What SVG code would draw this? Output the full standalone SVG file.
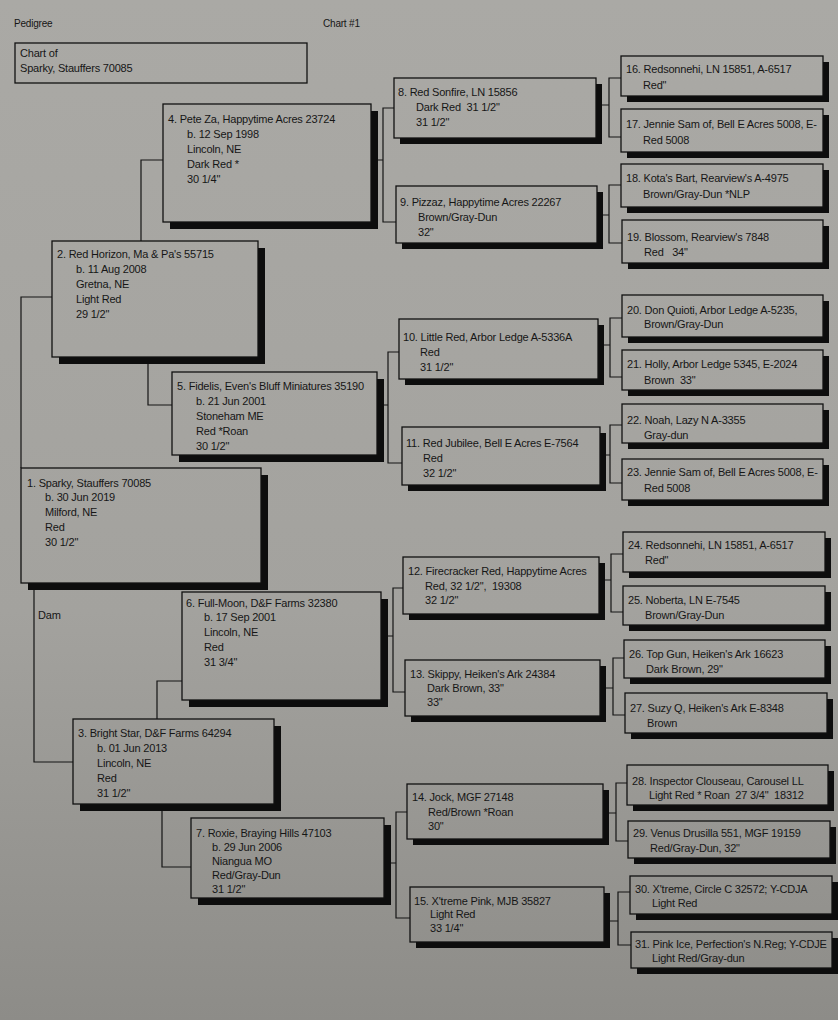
<svg xmlns="http://www.w3.org/2000/svg" width="838" height="1020" viewBox="0 0 838 1020">
<defs>
<linearGradient id="paper" gradientUnits="userSpaceOnUse" x1="0" y1="0" x2="0" y2="1020">
<stop offset="0" stop-color="#aaa9a5"/>
<stop offset="0.6" stop-color="#a3a29e"/>
<stop offset="1" stop-color="#8d8c88"/>
</linearGradient>
<style>
text{font-family:"Liberation Sans",Arial,sans-serif;font-size:11px;fill:#161616;letter-spacing:-0.2px;white-space:pre}
.hd{font-size:10px}
.bx{fill:url(#paper);stroke:#111;stroke-width:1.3}
.sh{fill:#0d0d0d}
.cn path{fill:none;stroke:#141414;stroke-width:1.2}
</style>
</defs>
<rect x="0" y="0" width="838" height="1020" fill="url(#paper)"/>
<text class="hd" x="14" y="27">Pedigree</text>
<text class="hd" x="323" y="27">Chart #1</text>
<g id="title">
<rect class="bx" x="15" y="43" width="292" height="40"/>
<text x="20" y="57">Chart of</text>
<text x="20" y="72">Sparky, Stauffers 70085</text>
</g>
<text x="38" y="619">Dam</text>
<g class="cn" id="connectors">
<path d="M163,160 H141 V241"/>
<path d="M52,297 H21 V468"/>
<path d="M148,357 V405 H172"/>
<path d="M377,405 H388 M399,352 H388 V463 H402"/>
<path d="M371,160 H383 M394,108 H383 V222 H396"/>
<path d="M596,105 H609 M621,78 H609 V137 H621"/>
<path d="M597,215 H609 M621,185 H609 V243 H622"/>
<path d="M598,345 H610 M622,318 H610 V377 H622"/>
<path d="M600,455 H610 M622,425 H610 V483 H622"/>
<path d="M34,583 V762 H73"/>
<path d="M157,719 V681 H182"/>
<path d="M162,804 V867 H191"/>
<path d="M381,636 H393 M403,588 H393 V692 H405"/>
<path d="M384,863 H396 M407,812 H396 V918 H410"/>
<path d="M599,580 H611 M623,554 H611 V612 H623"/>
<path d="M600,688 H613 M624,658 H613 V715 H625"/>
<path d="M603,813 H616 M627,783 H616 V841 H628"/>
<path d="M604,921 H618 M630,892 H618 V945 H631"/>
</g>
<g id="n1">
<rect class="sh" x="28" y="475" width="240" height="115"/>
<rect class="bx" x="21" y="468" width="240" height="115"/>
<text x="27" y="487">1. Sparky, Stauffers 70085</text>
<text x="45" y="501">b. 30 Jun 2019</text>
<text x="45" y="516">Milford, NE</text>
<text x="45" y="531">Red</text>
<text x="45" y="546">30 1/2"</text>
</g>
<g id="n2">
<rect class="sh" x="59" y="248" width="206" height="116"/>
<rect class="bx" x="52" y="241" width="206" height="116"/>
<text x="57" y="258">2. Red Horizon, Ma &amp; Pa's 55715</text>
<text x="76" y="273">b. 11 Aug 2008</text>
<text x="76" y="288">Gretna, NE</text>
<text x="76" y="303">Light Red</text>
<text x="76" y="318">29 1/2"</text>
</g>
<g id="n3">
<rect class="sh" x="80" y="726" width="201" height="85"/>
<rect class="bx" x="73" y="719" width="201" height="85"/>
<text x="78" y="737">3. Bright Star, D&amp;F Farms 64294</text>
<text x="97" y="752">b. 01 Jun 2013</text>
<text x="97" y="767">Lincoln, NE</text>
<text x="97" y="782">Red</text>
<text x="97" y="797">31 1/2"</text>
</g>
<g id="n4">
<rect class="sh" x="170" y="111" width="208" height="118"/>
<rect class="bx" x="163" y="104" width="208" height="118"/>
<text x="168" y="123">4. Pete Za, Happytime Acres 23724</text>
<text x="187" y="138">b. 12 Sep 1998</text>
<text x="187" y="153">Lincoln, NE</text>
<text x="187" y="168">Dark Red *</text>
<text x="187" y="183">30 1/4"</text>
</g>
<g id="n5">
<rect class="sh" x="179" y="379" width="205" height="83"/>
<rect class="bx" x="172" y="372" width="205" height="83"/>
<text x="177" y="390">5. Fidelis, Even's Bluff Miniatures 35190</text>
<text x="196" y="405">b. 21 Jun 2001</text>
<text x="196" y="420">Stoneham ME</text>
<text x="196" y="435">Red *Roan</text>
<text x="196" y="450">30 1/2"</text>
</g>
<g id="n6">
<rect class="sh" x="189" y="599" width="199" height="108"/>
<rect class="bx" x="182" y="592" width="199" height="108"/>
<text x="186" y="607">6. Full-Moon, D&amp;F Farms 32380</text>
<text x="204" y="621">b. 17 Sep 2001</text>
<text x="204" y="636">Lincoln, NE</text>
<text x="204" y="651">Red</text>
<text x="204" y="666">31 3/4"</text>
</g>
<g id="n7">
<rect class="sh" x="198" y="825" width="193" height="80"/>
<rect class="bx" x="191" y="818" width="193" height="80"/>
<text x="196" y="837">7. Roxie, Braying Hills 47103</text>
<text x="212" y="851">b. 29 Jun 2006</text>
<text x="212" y="865">Niangua MO</text>
<text x="212" y="879">Red/Gray-Dun</text>
<text x="212" y="893">31 1/2"</text>
</g>
<g id="n8">
<rect class="sh" x="400" y="84" width="202" height="60"/>
<rect class="bx" x="394" y="78" width="202" height="60"/>
<text x="398" y="96">8. Red Sonfire, LN 15856</text>
<text x="416" y="111">Dark Red  31 1/2"</text>
<text x="416" y="126">31 1/2"</text>
</g>
<g id="n9">
<rect class="sh" x="402" y="192" width="201" height="57"/>
<rect class="bx" x="396" y="186" width="201" height="57"/>
<text x="400" y="206">9. Pizzaz, Happytime Acres 22267</text>
<text x="418" y="221">Brown/Gray-Dun</text>
<text x="418" y="236">32"</text>
</g>
<g id="n10">
<rect class="sh" x="405" y="325" width="199" height="60"/>
<rect class="bx" x="399" y="319" width="199" height="60"/>
<text x="403" y="341">10. Little Red, Arbor Ledge A-5336A</text>
<text x="420" y="356">Red</text>
<text x="420" y="371">31 1/2"</text>
</g>
<g id="n11">
<rect class="sh" x="408" y="433" width="198" height="58"/>
<rect class="bx" x="402" y="427" width="198" height="58"/>
<text x="406" y="447">11. Red Jubilee, Bell E Acres E-7564</text>
<text x="423" y="462">Red</text>
<text x="423" y="477">32 1/2"</text>
</g>
<g id="n12">
<rect class="sh" x="409" y="563" width="196" height="57"/>
<rect class="bx" x="403" y="557" width="196" height="57"/>
<text x="408" y="575">12. Firecracker Red, Happytime Acres</text>
<text x="425" y="590">Red, 32 1/2",  19308</text>
<text x="425" y="604">32 1/2"</text>
</g>
<g id="n13">
<rect class="sh" x="411" y="666" width="195" height="56"/>
<rect class="bx" x="405" y="660" width="195" height="56"/>
<text x="410" y="678">13. Skippy, Heiken's Ark 24384</text>
<text x="427" y="692">Dark Brown, 33"</text>
<text x="427" y="706">33"</text>
</g>
<g id="n14">
<rect class="sh" x="413" y="790" width="196" height="55"/>
<rect class="bx" x="407" y="784" width="196" height="55"/>
<text x="412" y="801">14. Jock, MGF 27148</text>
<text x="428" y="816">Red/Brown *Roan</text>
<text x="428" y="830">30"</text>
</g>
<g id="n15">
<rect class="sh" x="416" y="893" width="194" height="55"/>
<rect class="bx" x="410" y="887" width="194" height="55"/>
<text x="414" y="905">15. X'treme Pink, MJB 35827</text>
<text x="430" y="918">Light Red</text>
<text x="430" y="932">33 1/4"</text>
</g>
<g id="n16">
<rect class="sh" x="627" y="62" width="202" height="40"/>
<rect class="bx" x="621" y="56" width="202" height="40"/>
<text x="626" y="73">16. Redsonnehi, LN 15851, A-6517</text>
<text x="643" y="89">Red"</text>
</g>
<g id="n17">
<rect class="sh" x="627" y="115" width="202" height="43"/>
<rect class="bx" x="621" y="109" width="202" height="43"/>
<text x="626" y="128">17. Jennie Sam of, Bell E Acres 5008, E-</text>
<text x="643" y="144">Red 5008</text>
</g>
<g id="n18">
<rect class="sh" x="627" y="170" width="202" height="43"/>
<rect class="bx" x="621" y="164" width="202" height="43"/>
<text x="626" y="182">18. Kota's Bart, Rearview's A-4975</text>
<text x="643" y="198">Brown/Gray-Dun *NLP</text>
</g>
<g id="n19">
<rect class="sh" x="628" y="226" width="201" height="43"/>
<rect class="bx" x="622" y="220" width="201" height="43"/>
<text x="627" y="241">19. Blossom, Rearview's 7848</text>
<text x="644" y="256">Red   34"</text>
</g>
<g id="n20">
<rect class="sh" x="628" y="301" width="201" height="42"/>
<rect class="bx" x="622" y="295" width="201" height="42"/>
<text x="627" y="314">20. Don Quioti, Arbor Ledge A-5235,</text>
<text x="644" y="328">Brown/Gray-Dun</text>
</g>
<g id="n21">
<rect class="sh" x="628" y="356" width="201" height="40"/>
<rect class="bx" x="622" y="350" width="201" height="40"/>
<text x="627" y="368">21. Holly, Arbor Ledge 5345, E-2024</text>
<text x="644" y="384">Brown  33"</text>
</g>
<g id="n22">
<rect class="sh" x="628" y="410" width="201" height="39"/>
<rect class="bx" x="622" y="404" width="201" height="39"/>
<text x="627" y="424">22. Noah, Lazy N A-3355</text>
<text x="644" y="439">Gray-dun</text>
</g>
<g id="n23">
<rect class="sh" x="628" y="465" width="201" height="41"/>
<rect class="bx" x="622" y="459" width="201" height="41"/>
<text x="627" y="476">23. Jennie Sam of, Bell E Acres 5008, E-</text>
<text x="644" y="492">Red 5008</text>
</g>
<g id="n24">
<rect class="sh" x="629" y="538" width="202" height="40"/>
<rect class="bx" x="623" y="532" width="202" height="40"/>
<text x="628" y="549">24. Redsonnehi, LN 15851, A-6517</text>
<text x="645" y="564">Red"</text>
</g>
<g id="n25">
<rect class="sh" x="629" y="592" width="202" height="39"/>
<rect class="bx" x="623" y="586" width="202" height="39"/>
<text x="628" y="604">25. Noberta, LN E-7545</text>
<text x="645" y="619">Brown/Gray-Dun</text>
</g>
<g id="n26">
<rect class="sh" x="630" y="646" width="201" height="38"/>
<rect class="bx" x="624" y="640" width="201" height="38"/>
<text x="629" y="658">26. Top Gun, Heiken's Ark 16623</text>
<text x="646" y="673">Dark Brown, 29"</text>
</g>
<g id="n27">
<rect class="sh" x="631" y="699" width="202" height="40"/>
<rect class="bx" x="625" y="693" width="202" height="40"/>
<text x="630" y="712">27. Suzy Q, Heiken's Ark E-8348</text>
<text x="647" y="727">Brown</text>
</g>
<g id="n28">
<rect class="sh" x="633" y="771" width="201" height="40"/>
<rect class="bx" x="627" y="765" width="201" height="40"/>
<text x="632" y="785">28. Inspector Clouseau, Carousel LL</text>
<text x="649" y="799">Light Red * Roan  27 3/4"  18312</text>
</g>
<g id="n29">
<rect class="sh" x="634" y="827" width="202" height="37"/>
<rect class="bx" x="628" y="821" width="202" height="37"/>
<text x="633" y="837">29. Venus Drusilla 551, MGF 19159</text>
<text x="650" y="852">Red/Gray-Dun, 32"</text>
</g>
<g id="n30">
<rect class="sh" x="636" y="882" width="202" height="38"/>
<rect class="bx" x="630" y="876" width="202" height="38"/>
<text x="635" y="893">30. X'treme, Circle C 32572; Y-CDJA</text>
<text x="652" y="907">Light Red</text>
</g>
<g id="n31">
<rect class="sh" x="637" y="938" width="201" height="36"/>
<rect class="bx" x="631" y="932" width="201" height="36"/>
<text x="635" y="948">31. Pink Ice, Perfection's N.Reg; Y-CDJE</text>
<text x="652" y="962">Light Red/Gray-dun</text>
</g>
</svg>
